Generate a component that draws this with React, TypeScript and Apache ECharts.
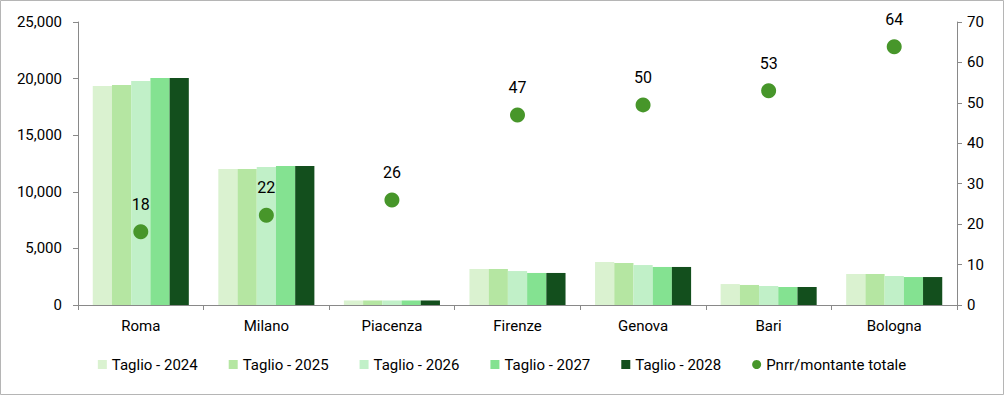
import React, { useEffect, useRef } from "react";
import * as echarts from "echarts";

const categories = ["Roma", "Milano", "Piacenza", "Firenze", "Genova", "Bari", "Bologna"];
const seriesNames = ["Taglio - 2024", "Taglio - 2025", "Taglio - 2026", "Taglio - 2027", "Taglio - 2028"];
const taglio2024 = [19350, 12010, 400, 3180, 3800, 1850, 2740];
const taglio2025 = [19430, 12010, 400, 3180, 3710, 1770, 2740];
const taglio2026 = [19790, 12190, 400, 3000, 3530, 1680, 2560];
const taglio2027 = [20050, 12280, 400, 2830, 3360, 1590, 2470];
const taglio2028 = [20050, 12280, 400, 2830, 3360, 1590, 2470];
const pnrrName = "Pnrr/montante totale";
const pnrr = [18.1, 22.2, 26, 47, 49.5, 53, 63.9];
const barColors = ["#DAF2D0", "#B5E6A2", "#C1F0C8", "#84E291", "#134F1D"];
const dotColor = "#47962A";

const FONT = "Roboto, 'Liberation Sans', sans-serif";

export default function App() {
  const ref = useRef<HTMLDivElement>(null);
  useEffect(() => {
    document.body.style.margin = "0";
    const chart = echarts.init(ref.current!, null, { renderer: "svg" });
    const barData = [taglio2024, taglio2025, taglio2026, taglio2027, taglio2028];
    const axisLineColor = "#898989";
    chart.setOption({
      animation: false,
      textStyle: { fontFamily: FONT },
      graphic: [
        {
          type: "rect",
          shape: { x: 0.5, y: 0.5, width: 1003, height: 394 },
          style: { fill: "none", stroke: "#b5b5b5", lineWidth: 1 },
          silent: true,
        },
      ],
      grid: { left: 78, right: 47, top: 22, bottom: 90 },
      legend: {
        bottom: 18,
        left: "center",
        itemWidth: 9,
        itemHeight: 9,
        itemGap: 31,
        textStyle: { fontSize: 15, color: "#000", fontFamily: FONT },
        data: [
          ...seriesNames.map((n) => ({ name: n, icon: "rect" })),
          { name: pnrrName, icon: "circle", itemStyle: { opacity: 1 } },
        ],
      },
      xAxis: {
        type: "category",
        data: categories,
        axisLine: { lineStyle: { color: axisLineColor } },
        axisTick: { show: true, length: 5, lineStyle: { color: axisLineColor } },
        axisLabel: { fontSize: 15, color: "#000", margin: 13, fontFamily: FONT },
      },
      yAxis: [
        {
          type: "value",
          min: 0,
          max: 25000,
          interval: 5000,
          splitLine: { show: false },
          axisLine: { show: true, lineStyle: { color: axisLineColor } },
          axisTick: { show: true, length: 5, lineStyle: { color: axisLineColor } },
          axisLabel: {
            fontSize: 15,
            color: "#000",
            margin: 16,
            fontFamily: FONT,
            formatter: (v: number) => v.toLocaleString("en-US"),
          },
        },
        {
          type: "value",
          min: 0,
          max: 70,
          interval: 10,
          splitLine: { show: false },
          axisLine: { show: true, lineStyle: { color: axisLineColor } },
          axisTick: { show: true, length: 5, lineStyle: { color: axisLineColor } },
          axisLabel: { fontSize: 15, color: "#000", margin: 10, fontFamily: FONT },
        },
      ],
      series: [
        ...seriesNames.map((n, i) => ({
          name: n,
          type: "bar",
          data: barData[i],
          barGap: "0%",
          barCategoryGap: "23.5%",
          itemStyle: { color: barColors[i] },
        })),
        {
          name: pnrrName,
          type: "scatter",
          yAxisIndex: 1,
          data: pnrr,
          symbolSize: 15,
          itemStyle: { color: dotColor, opacity: 1 },
          label: {
            show: true,
            position: "top",
            distance: 12,
            fontSize: 16,
            color: "#000",
            opacity: 1,
            fontFamily: FONT,
            formatter: (p: any) => String(Math.round(p.value)),
          },
          z: 5,
        },
      ],
    });
    return () => chart.dispose();
  }, []);
  return <div ref={ref} style={{ width: 1004, height: 395, position: "absolute", left: 0, top: 0 }} />;
}
